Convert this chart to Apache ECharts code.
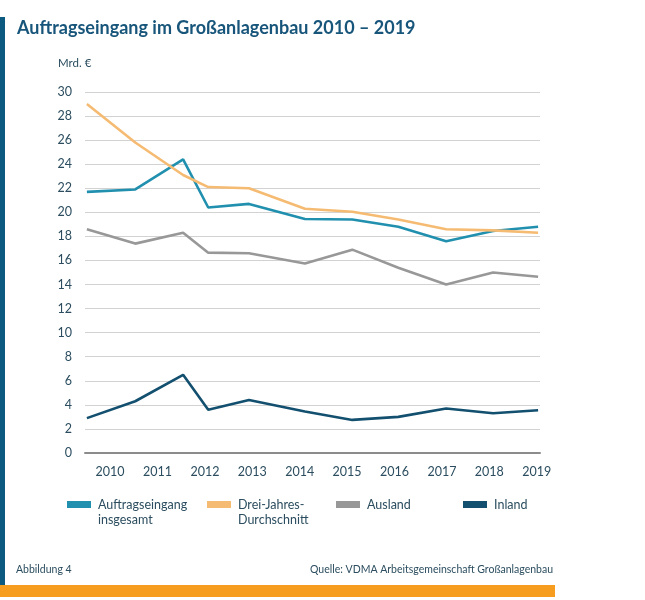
<!DOCTYPE html>
<html>

<head>
  <meta charset="utf-8">
  <title>Auftragseingang im Großanlagenbau</title>
  <script src="https://cdn.jsdelivr.net/npm/echarts@6/dist/echarts.min.js"></script>
  <style>
    body { margin: 0; background: #fff; }
  </style>
</head>

<body>
  <div id="chart" style="width: 645px; height: 600px;"></div>

  <script>
    // Zeitpunkte der Datenpunkte (in Jahren, wie im Original leicht versetzt)
    var periods = [2009.51, 2010.53, 2011.54, 2012.07, 2012.93, 2014.11, 2015.11, 2016.08, 2017.09, 2018.08, 2019.03];
    var yearLabels = [2010, 2011, 2012, 2013, 2014, 2015, 2016, 2017, 2018, 2019];

    // Werte in Mrd. €
    var auftragseingang = [21.7, 21.9, 24.4, 20.4, 20.7, 19.45, 19.4, 18.8, 17.6, 18.45, 18.8];
    var dreiJahresSchnitt = [29.0, 25.8, 23.1, 22.1, 22.0, 20.3, 20.05, 19.4, 18.6, 18.5, 18.3];
    var ausland = [18.6, 17.4, 18.3, 16.65, 16.6, 15.75, 16.9, 15.4, 14.0, 15.0, 14.65];
    var inland = [2.9, 4.3, 6.5, 3.6, 4.4, 3.45, 2.75, 3.0, 3.7, 3.3, 3.55];

    var seriesNames = ['Auftragseingang', 'Drei-Jahres-', 'Ausland', 'Inland'];
    var secondLines = ['insgesamt', 'Durchschnitt', '', ''];
    var colors = ['#2190af', '#f6bb72', '#989898', '#13506f'];
    var legendLeft = [67, 207, 336, 463];

    var textColor = '#2b4d5f';
    var font = 'Lato, sans-serif';

    function pairs(values) {
      var out = [];
      for (var i = 0; i < values.length; i++) {
        out.push([periods[i], values[i]]);
      }
      return out;
    }

    var chart = echarts.init(document.getElementById('chart'));

    var allValues = [auftragseingang, dreiJahresSchnitt, ausland, inland];
    var series = [];
    var legends = [];
    var graphics = [];

    for (var i = 0; i < seriesNames.length; i++) {
      series.push({
        name: seriesNames[i],
        type: 'line',
        showSymbol: false,
        symbol: 'none',
        color: colors[i],
        lineStyle: { width: 2.6, color: colors[i] },
        data: pairs(allValues[i])
      });
      legends.push({
        data: [seriesNames[i]],
        left: legendLeft[i],
        top: 498,
        padding: 0,
        icon: 'rect',
        itemWidth: 24,
        itemHeight: 7,
        selectedMode: false,
        textStyle: { color: textColor, fontSize: 12.5, fontFamily: font, padding: [0, 0, 0, 2] }
      });
      if (secondLines[i]) {
        graphics.push({
          type: 'text',
          left: legendLeft[i] + 31,
          top: 513,
          style: { text: secondLines[i], fill: textColor, font: '12.5px ' + font }
        });
      }
    }

    // Rahmen: blauer Balken links, oranger Balken unten
    graphics.push({
      type: 'rect', shape: { x: 0, y: 17, width: 5, height: 568 },
      style: { fill: '#0d5a80' }
    });
    graphics.push({
      type: 'rect', shape: { x: 0, y: 585, width: 555, height: 12 },
      style: { fill: '#f69c1e' }
    });
    graphics.push({
      type: 'text', left: 58, top: 57,
      style: { text: 'Mrd. €', fill: textColor, font: '11.5px ' + font }
    });
    graphics.push({
      type: 'text', left: 16, top: 564,
      style: { text: 'Abbildung 4', fill: textColor, font: '10.5px ' + font }
    });
    graphics.push({
      type: 'text', x: 553, y: 564,
      style: { text: 'Quelle: VDMA Arbeitsgemeinschaft Großanlagenbau', fill: textColor, font: '10.5px ' + font, align: 'right', verticalAlign: 'top' }
    });

    var option = {
      backgroundColor: '#fff',
      animation: false,
      title: {
        text: 'Auftragseingang im Großanlagenbau 2010 – 2019',
        left: 12,
        top: 14,
        textStyle: { color: '#17557a', fontSize: 18, fontWeight: 'bold', fontFamily: font }
      },
      legend: legends,
      grid: { left: 85, right: 105, top: 92, bottom: 147 },
      xAxis: {
        type: 'value',
        min: 2009.47,
        max: 2019.07,
        axisLine: { show: true, lineStyle: { color: '#8c8c8c', width: 2 } },
        axisTick: { show: false },
        splitLine: { show: false },
        axisLabel: {
          customValues: yearLabels,
          formatter: function (v) { return String(Math.round(v)); },
          color: textColor,
          fontSize: 12.5,
          fontFamily: font,
          margin: 12
        }
      },
      yAxis: {
        type: 'value',
        min: 0,
        max: 30,
        interval: 2,
        axisLine: { show: false },
        axisTick: { show: false },
        splitLine: { lineStyle: { color: '#d2d2d2', width: 1 } },
        axisLabel: { color: textColor, fontSize: 12.5, fontFamily: font, margin: 13 }
      },
      graphic: graphics,
      series: series
    };

    chart.setOption(option);
  </script>
</body>

</html>
